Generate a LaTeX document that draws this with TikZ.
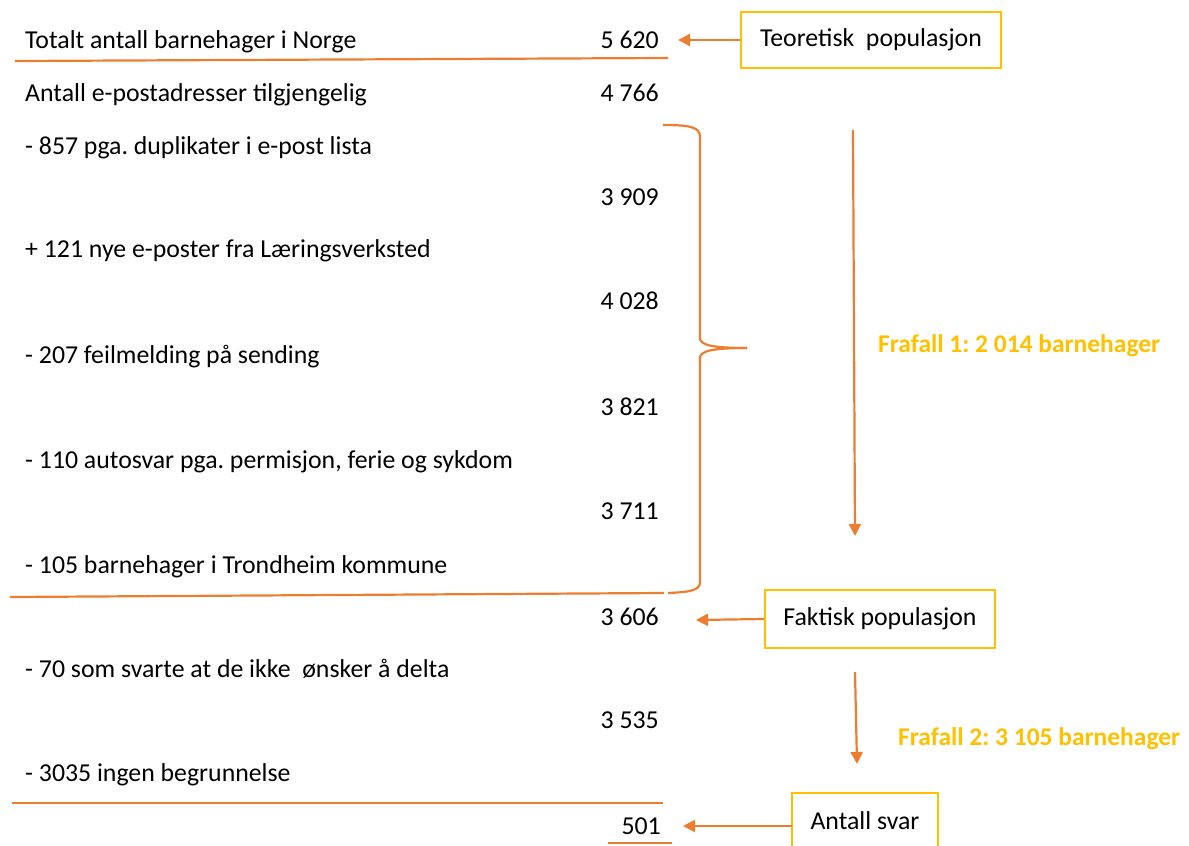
\documentclass[tikz,border=0pt]{standalone}
\usepackage{fontspec}
\setmainfont{Carlito}
\usetikzlibrary{arrows.meta}
\definecolor{org}{HTML}{ED7D31}
\definecolor{gld}{HTML}{FFC000}
\begin{document}
\frenchspacing
\begin{tikzpicture}[x=1pt,y=-1pt,
  lbl/.style={anchor=base west,inner sep=0pt,font=\fontsize{25.8}{30}\selectfont},
  num/.style={anchor=base east,inner sep=0pt,font=\fontsize{25.8}{30}\selectfont},
  ybox/.style={draw=gld,line width=2.2pt,inner sep=0pt,font=\fontsize{25.8}{30}\selectfont},
  oline/.style={draw=org,line width=2.2pt},
  oarrow/.style={draw=org,line width=2.2pt,-{Triangle[width=12pt,length=12pt]}},
  fraf/.style={anchor=base west,inner sep=0pt,text=gld,font=\fontsize{25.5}{30}\selectfont\bfseries}]
\useasboundingbox (0,0) rectangle (1189,846);
% left labels
\node[lbl] (l1) at (25,48) {Totalt antall barnehager i Norge};
\node[lbl] (l2) at (25,101) {Antall e-postadresser tilgjengelig};
\node[lbl] (l3) at (25,154) {- 857 pga. duplikater i e-post lista};
\node[lbl] (l4) at (25,257) {+ 121 nye e-poster fra Læringsverksted};
\node[lbl] (l5) at (25,363) {- 207 feilmelding på sending};
\node[lbl] (l6) at (25,468) {- 110 autosvar pga. permisjon, ferie og sykdom};
\node[lbl] (l7) at (25,573) {- 105 barnehager i Trondheim kommune};
\node[lbl] (l8) at (25,677) {- 70 som svarte at de ikke \ ønsker å delta};
\node[lbl] (l9) at (25,781) {- 3035 ingen begrunnelse};
% numbers
\node[num] (n1) at (659,48) {5 620};
\node[num] (n2) at (659,101) {4 766};
\node[num] (n3) at (659,205) {3 909};
\node[num] (n4) at (659,309) {4 028};
\node[num] (n5) at (659,415) {3 821};
\node[num] (n6) at (659,519) {3 711};
\node[num] (n7) at (659,625) {3 606};
\node[num] (n8) at (659,728) {3 535};
\node[num] (n9) at (661,834) {501};
% underlines
\draw[oline] (15,61) -- (668,58);
\draw[oline] (10,597) -- (664,593);
\draw[oline] (12,803) -- (663,803);
\draw[oline] (608,843) -- (672,843);
% brace
\coordinate (btip) at (747,348);
\draw[oline] (663,125) .. controls (690,125) and (700,127) .. (700,137) -- (700,338)
  .. controls (700,345) and (712,348) .. (btip);
\draw[oline] (btip) .. controls (712,348) and (700,351) .. (700,358) -- (700,582)
  .. controls (700,590) and (692,592) .. (668,593);
% boxes
\node[ybox,minimum width=260pt,minimum height=56pt] (b1) at (871,40) {Teoretisk \ populasjon};
\node[ybox,minimum width=230pt,minimum height=58pt] (b2) at (880,619) {Faktisk populasjon};
\node[ybox,minimum width=146pt,minimum height=62pt] (b3) at (865,824) {\raisebox{6pt}{Antall svar}};
% arrows
\draw[oarrow] (b1.west) -- (678,40);
\draw[oarrow] (b2.west) -- (696,620);
\draw[oarrow] (792,826) -- (683,826);
\coordinate (a1s) at (853,130);
\coordinate (a1e) at (855,536);
\draw[oarrow] (a1s) -- (a1e);
\coordinate (a2s) at (855,672);
\coordinate (a2e) at (857,764);
\draw[oarrow] (a2s) -- (a2e);
% frafall labels
\node[fraf] (f1) at (878,352) {Frafall 1: 2 014 barnehager};
\node[fraf] (f2) at (898,745) {Frafall 2: 3 105 barnehager};
\end{tikzpicture}
\end{document}
